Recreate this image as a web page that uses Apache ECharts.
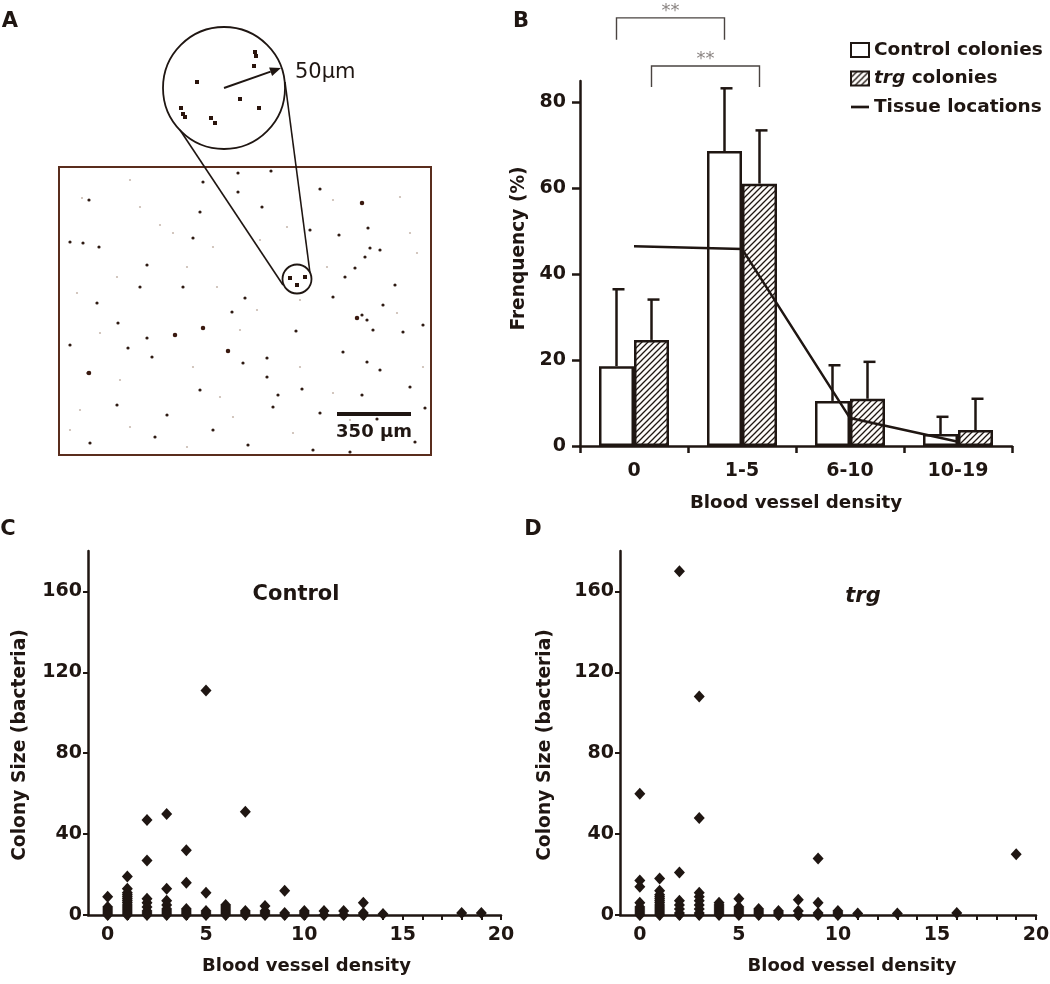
<!DOCTYPE html>
<html><head><meta charset="utf-8">
<script src="https://cdn.jsdelivr.net/npm/echarts@6/dist/echarts.min.js"></script>
<style>html,body{margin:0;padding:0;background:#fff}#c{width:1050px;height:984px}</style>
</head><body><div id="c"></div>
<script>
// ---------- Panel B data ----------
const densityCats = ['0', '1-5', '6-10', '10-19'];
const controlFreq = [18.6, 68.7, 10.5, 2.8];
const trgFreq = [24.7, 61.1, 11.0, 3.7];
const controlErrTop = [36.5, 83.3, 18.8, 6.8];
const trgErrTop = [34.1, 73.5, 19.6, 11.0];
const tissueFreq = [46.5, 45.9, 6.5, 1.0];
const freqTicks = [0, 20, 40, 60, 80];
// significance brackets: from category, to category, which bar (0 control / 1 trg), bracket level, leg end
const sigFrom = [0, 0];
const sigTo = [1, 1];
const sigBar = [0, 1];
const sigLevel = [99.7, 88.5];
const sigLegEnd = [94.6, 83.6];
const sigText = ['**', '**'];

// ---------- Panels C / D data: [blood vessel density, colony size] ----------
const controlColonies = [
  [0,9],[0,4],[0,3],[0,2],[0,1],[0,0],
  [1,19],[1,13],[1,11],[1,10],[1,9],[1,8],[1,7],[1,6],[1,5],[1,4],[1,3],[1,2],[1,1],[1,0],
  [2,47],[2,27],[2,8],[2,6],[2,4],[2,2],[2,1],[2,0],
  [3,50],[3,13],[3,7],[3,5],[3,3],[3,2],[3,1],[3,0],
  [4,32],[4,16],[4,3],[4,2],[4,1],[4,0],
  [5,111],[5,11],[5,2],[5,1],[5,0],
  [6,5],[6,4],[6,3],[6,2],[6,1],[6,0],
  [7,51],[7,2],[7,1],[7,0],
  [8,4.5],[8,2],[8,1],[8,0],
  [9,12],[9,1],[9,0],
  [10,2],[10,1],[10,0],
  [11,2],[11,0],[12,2],[12,0],
  [13,6],[13,1],[13,0],[14,0.5],[18,1],[19,1]
];
const trgColonies = [
  [0,60],[0,17],[0,14],[0,6],[0,4],[0,3],[0,2],[0,1],[0,0],
  [1,18],[1,12],[1,10],[1,9],[1,8],[1,7],[1,6],[1,5],[1,4],[1,3],[1,2],[1,1],[1,0],
  [2,170],[2,21],[2,7],[2,5],[2,3],[2,1],[2,0],
  [3,108],[3,48],[3,11],[3,9],[3,7],[3,5],[3,3],[3,1],[3,0],
  [4,6],[4,5],[4,4],[4,3],[4,2],[4,1],[4,0],
  [5,8],[5,4],[5,3],[5,2],[5,1],[5,0],
  [6,3],[6,2],[6,1],[6,0],
  [7,2],[7,1],[7,0],
  [8,7.5],[8,2],[8,0],
  [9,28],[9,6],[9,1],[9,0],
  [10,2],[10,1],[10,0],
  [11,0.7],[13,0.7],[16,1],[19,30]
];
const densityTicks = [0,1,2,3,4,5,6,7,8,9,10,11,12,13,14,15,16,17,18,19,20];
const densityLabels = [0, 5, 10, 15, 20];
const sizeTicks = [0, 40, 80, 120, 160];

// ---------- Panel A (micrograph, image coordinates) ----------
const darkSpecks = [
  [271,171],[238,173],[203,182],[238,192],[320,189],[89,200],[362,203],[262,207],[200,212],
  [368,228],[70,242],[83,243],[99,247],[147,265],[193,238],[339,235],[310,230],[365,257],
  [355,268],[345,277],[370,248],[380,250],[395,285],[333,297],[140,287],[97,303],[183,287],
  [245,298],[232,312],[383,305],[357,318],[362,315],[367,320],[423,325],[203,328],[175,335],
  [147,338],[118,323],[296,331],[373,330],[403,332],[128,348],[228,351],[267,358],[367,362],
  [343,352],[152,357],[88,373],[243,363],[302,389],[362,395],[278,395],[273,407],[380,370],
  [377,419],[167,415],[155,437],[90,443],[248,445],[350,452],[425,408],[415,442],[313,450],
  [267,377],[200,390],[410,387],[70,345],[117,405],[213,430],[320,413]
];
const bigSpecks = [[203,328],[89,373],[228,351],[357,318],[175,335],[362,203]];
const faintSpecks = [
  [82,198],[130,180],[173,233],[213,247],[287,227],[333,200],[410,233],[417,253],[187,267],
  [327,267],[77,293],[117,277],[217,287],[257,310],[300,300],[397,313],[100,333],[193,367],
  [220,397],[300,367],[333,393],[80,410],[130,427],[187,447],[233,417],[293,433],[397,427],
  [423,367],[140,207],[400,197],[160,225],[260,240],[120,380],[350,420],[70,430],[240,330]
];
const insetSpecks = [
  [255,52],[256,56],[254,66],[197,82],[240,99],[259,108],[181,108],[183,114],[185,117],
  [211,118],[215,123],[290,278],[297,285],[305,277]
];

const INK = '#1f1612';
const FONT = 'DejaVu Sans';
const BAR_W = 35;

function makeHatch() {
  const s = 6;
  const c = document.createElement('canvas');
  c.width = s; c.height = s;
  const g = c.getContext('2d');
  g.fillStyle = '#fdfbf9'; g.fillRect(0, 0, s, s);
  g.strokeStyle = INK; g.lineWidth = 1.3;
  g.beginPath();
  g.moveTo(0, s); g.lineTo(s, 0);
  g.moveTo(-1, 1); g.lineTo(1, -1);
  g.moveTo(s - 1, s + 1); g.lineTo(s + 1, s - 1);
  g.stroke();
  return c;
}
const hatch = { image: makeHatch(), repeat: 'repeat' };

const chart = echarts.init(document.getElementById('c'), null, { renderer: 'canvas' });

const axisLineStyle = { show: true, onZero: false, lineStyle: { color: INK, width: 2.5 } };
const boldLabel = (extra) => Object.assign({ color: INK, fontFamily: FONT, fontWeight: 'bold', fontSize: 19 }, extra);
const nameStyle = (extra) => Object.assign({ color: INK, fontFamily: FONT, fontWeight: 'bold', fontSize: 18.5 }, extra);

function errRender(shift) {
  return function (params, api) {
    const i = api.value(0);
    const base = api.coord([i, api.value(1)]);
    const top = api.coord([i, api.value(2)]);
    const x = base[0] + shift;
    return { type: 'group', children: [
      { type: 'line', shape: { x1: x, y1: base[1], x2: x, y2: top[1] }, style: { stroke: INK, lineWidth: 2.5 } },
      { type: 'line', shape: { x1: x - 4, y1: top[1], x2: x + 8, y2: top[1] }, style: { stroke: INK, lineWidth: 2.5 } }
    ]};
  };
}

function scatterAxes(gi) {
  return {
    x: {
      type: 'value', gridIndex: gi, min: -1, max: 20, interval: 1,
      axisLine: axisLineStyle,
      axisTick: { show: true, length: 5, customValues: densityTicks, lineStyle: { color: INK, width: 2 } },
      axisLabel: boldLabel({ margin: 11, customValues: densityLabels,
        formatter: v => (v >= 0 && v % 5 === 0) ? String(v) : '' }),
      splitLine: { show: false },
      name: 'Blood vessel density', nameLocation: 'middle', nameGap: 42,
      nameTextStyle: nameStyle({ fontSize: 18, padding: gi === 2 ? [0, 0, 0, 24] : [0, 0, 0, 48] })
    },
    y: {
      type: 'value', gridIndex: gi, min: 0, max: 180, interval: 40,
      axisLine: axisLineStyle,
      axisTick: { show: true, length: 5, customValues: sizeTicks, lineStyle: { color: INK, width: 2 } },
      axisLabel: boldLabel({ margin: 6, customValues: sizeTicks,
        formatter: v => (v % 40 === 0 && v <= 160) ? String(v) : '' }),
      splitLine: { show: false },
      name: 'Colony Size (bacteria)', nameLocation: 'middle', nameRotate: 90,
      nameGap: gi === 2 ? 58 : 65,
      nameTextStyle: nameStyle({ fontSize: 18.7, padding: [0, 24, 0, 0] })
    }
  };
}
const axC = scatterAxes(2), axD = scatterAxes(3);

const option = {
  animation: false,
  backgroundColor: '#ffffff',
  textStyle: { fontFamily: FONT, color: INK },
  grid: [
    { left: 0, top: 0, width: 440, height: 470, outerBoundsMode: 'none' },
    { left: 580, top: 81, width: 432, height: 365, outerBoundsMode: 'none' },
    { left: 88, top: 551, width: 413, height: 364, outerBoundsMode: 'none' },
    { left: 620, top: 551, width: 416, height: 364, outerBoundsMode: 'none' }
  ],
  xAxis: [
    { type: 'value', gridIndex: 0, min: 0, max: 440, show: false },
    {
      type: 'category', gridIndex: 1, data: densityCats, boundaryGap: true,
      axisLine: axisLineStyle,
      axisTick: { show: true, length: 7, lineStyle: { color: INK, width: 2.5 } },
      axisLabel: boldLabel({ margin: 16 }),
      name: 'Blood vessel density', nameLocation: 'middle', nameGap: 48,
      nameTextStyle: nameStyle({ fontSize: 18.3 })
    },
    axC.x, axD.x
  ],
  yAxis: [
    { type: 'value', gridIndex: 0, min: 0, max: 470, inverse: true, show: false },
    {
      type: 'value', gridIndex: 1, min: 0, max: 85, interval: 20,
      axisLine: axisLineStyle,
      axisTick: { show: true, length: 8, customValues: freqTicks, lineStyle: { color: INK, width: 2.5 } },
      axisLabel: boldLabel({ margin: 14, customValues: freqTicks,
        formatter: v => (v % 20 === 0) ? String(v) : '' }),
      splitLine: { show: false },
      name: 'Frenquency (%)', nameLocation: 'middle', nameRotate: 90, nameGap: 51,
      nameTextStyle: nameStyle({ fontSize: 18.6, padding: [0, 0, 0, 30] })
    },
    axC.y, axD.y
  ],
  legend: {
    left: 845, top: 35, orient: 'vertical', itemWidth: 18, itemHeight: 14, itemGap: 8.5,
    selectedMode: false,
    data: [
      { name: 'Control colonies', icon: 'rect' },
      { name: 'trg colonies', icon: 'rect' },
      { name: 'Tissue locations', icon: 'path://M0,0H20V3H0Z' }
    ],
    formatter: n => n === 'trg colonies' ? '{i|trg} colonies' : n,
    textStyle: {
      fontFamily: FONT, fontSize: 18.5, fontWeight: 'bold', color: INK, lineHeight: 20,
      rich: { i: { fontFamily: FONT, fontSize: 18.5, fontWeight: 'bold', fontStyle: 'italic', color: INK } }
    }
  },
  series: [
    // Panel A
    { type: 'scatter', xAxisIndex: 0, yAxisIndex: 0, silent: true, clip: false,
      symbol: 'circle', symbolSize: 2.2, itemStyle: { color: '#c9bab0', opacity: 1 }, data: faintSpecks },
    { type: 'scatter', xAxisIndex: 0, yAxisIndex: 0, silent: true, clip: false,
      symbol: 'circle', symbolSize: 3.2, itemStyle: { color: '#2e1a12', opacity: 1 }, data: darkSpecks },
    { type: 'scatter', xAxisIndex: 0, yAxisIndex: 0, silent: true, clip: false,
      symbol: 'circle', symbolSize: 4.5, itemStyle: { color: '#3a1a10', opacity: 1 }, data: bigSpecks },
    { type: 'scatter', xAxisIndex: 0, yAxisIndex: 0, silent: true, clip: false,
      symbol: 'rect', symbolSize: 4, itemStyle: { color: '#2a140c', opacity: 1 }, data: insetSpecks },
    // Panel B
    { name: 'Control colonies', type: 'bar', xAxisIndex: 1, yAxisIndex: 1, data: controlFreq,
      barWidth: BAR_W, barGap: '0%',
      itemStyle: { color: '#ffffff', borderColor: INK, borderWidth: 2.5 } },
    { name: 'trg colonies', type: 'bar', xAxisIndex: 1, yAxisIndex: 1, data: trgFreq,
      barWidth: BAR_W, barGap: '0%',
      itemStyle: { color: hatch, borderColor: INK, borderWidth: 2.5 } },
    { type: 'custom', xAxisIndex: 1, yAxisIndex: 1, z: 3, silent: true,
      data: densityCats.map((c, i) => [i, controlFreq[i], controlErrTop[i]]),
      renderItem: errRender(-BAR_W / 2) },
    { type: 'custom', xAxisIndex: 1, yAxisIndex: 1, z: 3, silent: true,
      data: densityCats.map((c, i) => [i, trgFreq[i], trgErrTop[i]]),
      renderItem: errRender(BAR_W / 2) },
    { name: 'Tissue locations', type: 'line', xAxisIndex: 1, yAxisIndex: 1, z: 4,
      data: tissueFreq, symbol: 'none', color: INK,
      itemStyle: { color: INK }, lineStyle: { color: INK, width: 2.5 } },
    { type: 'custom', xAxisIndex: 1, yAxisIndex: 1, z: 5, silent: true, clip: false,
      data: sigFrom.map((f, i) => [f, sigLevel[i]]),
      renderItem: function (params, api) {
        const k = params.dataIndex;
        const off = sigBar[k] === 0 ? -BAR_W / 2 : BAR_W / 2;
        const p1 = api.coord([sigFrom[k], sigLevel[k]]);
        const p2 = api.coord([sigTo[k], sigLevel[k]]);
        const leg = api.coord([sigFrom[k], sigLegEnd[k]]);
        const x1 = p1[0] + off, x2 = p2[0] + off, y = p1[1], yl = leg[1];
        return { type: 'group', children: [
          { type: 'polyline', shape: { points: [[x1, yl], [x1, y], [x2, y], [x2, yl]] },
            style: { stroke: '#4a4441', lineWidth: 1.4, fill: null } },
          { type: 'text', x: (x1 + x2) / 2, y: y - 7,
            style: { text: sigText[k], fill: '#8a8482', font: '18px "DejaVu Sans"',
              textAlign: 'center', textVerticalAlign: 'middle' } }
        ]};
      } },
    // Panels C and D
    { type: 'scatter', xAxisIndex: 2, yAxisIndex: 2, clip: false, symbol: 'diamond',
      symbolSize: [11, 12], itemStyle: { color: INK, opacity: 1 }, data: controlColonies },
    { type: 'scatter', xAxisIndex: 3, yAxisIndex: 3, clip: false, symbol: 'diamond',
      symbolSize: [11, 12], itemStyle: { color: INK, opacity: 1 }, data: trgColonies }
  ]
};
chart.setOption(option);

// ---------- Panel A drawing & panel annotations ----------
const P = p => chart.convertToPixel({ xAxisIndex: 0, yAxisIndex: 0 }, p);
const frameTL = P([59, 167]), frameBR = P([431, 455]);
const bigC = P([224, 88]), smallC = P([297, 279]);
const arrowFrom = P([224, 88]), arrowTip = P([281, 68]);
const dx = arrowTip[0] - arrowFrom[0], dy = arrowTip[1] - arrowFrom[1];
const L = Math.hypot(dx, dy), ux = dx / L, uy = dy / L;
const hb = [arrowTip[0] - 11 * ux, arrowTip[1] - 11 * uy];
const headPts = [arrowTip, [hb[0] - 4.5 * uy, hb[1] + 4.5 * ux], [hb[0] + 4.5 * uy, hb[1] - 4.5 * ux]];
const bar1 = P([337, 412]), bar2 = P([411, 416]);
const t350 = P([374, 432]), t50 = P([295, 73]);
const tanA1 = P([180, 130]), tanA2 = P([283, 285]);
const tanB1 = P([285, 82]), tanB2 = P([310, 273]);

const txt = (x, y, text, font, align) => ({
  type: 'text', x: x, y: y, z: 10,
  style: { text: text, font: font, fill: INK, textAlign: align || 'center', textVerticalAlign: 'middle' }
});

chart.setOption({
  graphic: [
    { type: 'rect', z: 1, shape: { x: frameTL[0], y: frameTL[1], width: frameBR[0] - frameTL[0], height: frameBR[1] - frameTL[1] },
      style: { fill: null, stroke: '#5a2d1d', lineWidth: 2 } },
    { type: 'circle', z: 3, shape: { cx: bigC[0], cy: bigC[1], r: 61 }, style: { fill: null, stroke: INK, lineWidth: 1.8 } },
    { type: 'circle', z: 3, shape: { cx: smallC[0], cy: smallC[1], r: 14.5 }, style: { fill: null, stroke: INK, lineWidth: 1.8 } },
    { type: 'line', z: 3, shape: { x1: tanA1[0], y1: tanA1[1], x2: tanA2[0], y2: tanA2[1] }, style: { stroke: INK, lineWidth: 1.6 } },
    { type: 'line', z: 3, shape: { x1: tanB1[0], y1: tanB1[1], x2: tanB2[0], y2: tanB2[1] }, style: { stroke: INK, lineWidth: 1.6 } },
    { type: 'line', z: 3, shape: { x1: arrowFrom[0], y1: arrowFrom[1], x2: hb[0], y2: hb[1] }, style: { stroke: INK, lineWidth: 2 } },
    { type: 'polygon', z: 3, shape: { points: headPts }, style: { fill: INK } },
    { type: 'rect', z: 3, shape: { x: bar1[0], y: bar1[1], width: bar2[0] - bar1[0], height: bar2[1] - bar1[1] }, style: { fill: INK } },
    txt(t350[0], t350[1], '350 μm', 'bold 18px "DejaVu Sans"'),
    txt(t50[0], t50[1], '50μm', '21px "DejaVu Sans"', 'left'),
    txt(10, 22, 'A', 'bold 21px "DejaVu Sans"'),
    txt(521, 22, 'B', 'bold 21px "DejaVu Sans"'),
    txt(8, 530, 'C', 'bold 21px "DejaVu Sans"'),
    txt(533, 530, 'D', 'bold 21px "DejaVu Sans"'),
    txt(296, 595, 'Control', 'bold 21px "DejaVu Sans"'),
    txt(863, 597, 'trg', 'italic bold 21px "DejaVu Sans"')
  ]
});
</script>
</body></html>
